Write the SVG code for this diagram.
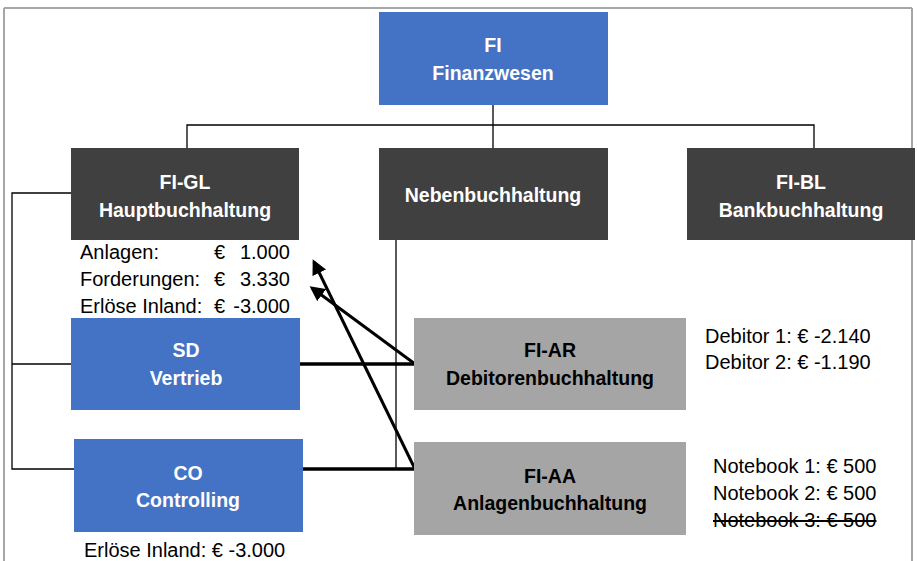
<svg xmlns="http://www.w3.org/2000/svg" width="917" height="561" viewBox="0 0 917 561">
<style>
.blue{fill:#4472C4}
.dark{fill:#404040}
.gray{fill:#A5A5A5}
.tw{font-family:"Liberation Sans",Arial,sans-serif;font-weight:bold;font-size:19.5px;fill:#fff;text-anchor:middle}
.tb{font-family:"Liberation Sans",Arial,sans-serif;font-weight:bold;font-size:19.5px;fill:#000;text-anchor:middle}
.t{font-family:"Liberation Sans",Arial,sans-serif;font-size:20px;fill:#000}
.thin{stroke:#000;stroke-width:1.3;fill:none}
.thick{stroke:#000;stroke-width:3.5;fill:none}
.arr{stroke:#000;stroke-width:3;fill:none;marker-end:url(#ah)}
</style>
<defs>
<marker id="ah" markerWidth="5" markerHeight="5" refX="4" refY="2.5" orient="auto" markerUnits="strokeWidth">
<path d="M0,0 L5,2.5 L0,5 Z" fill="#000"/>
</marker>
</defs>
<rect width="917" height="561" fill="#fff"/>
<g id="frame" stroke="#a6a6a6" stroke-width="2" fill="none">
<line x1="4" y1="8" x2="912" y2="8"/>
<line x1="4" y1="8" x2="4" y2="561"/>
<line x1="912" y1="8" x2="912" y2="561"/>
</g>
<g id="connectors">
<polyline class="thin" points="493,105 493,148"/>
<polyline class="thin" points="187,148 187,125 814,125 814,148"/>
<polyline class="thin" points="71,193 12,193 12,469 74,469"/>
<line class="thin" x1="12" y1="364" x2="71" y2="364"/>
<line class="thin" x1="396" y1="240" x2="396" y2="469"/>
<line class="thick" x1="300" y1="364" x2="415" y2="364"/>
<line class="thick" x1="303" y1="469" x2="415" y2="469"/>
<line class="arr" x1="415" y1="364" x2="312" y2="288"/>
<line class="arr" x1="415" y1="469" x2="314" y2="262"/>
</g>
<g id="fi">
<rect class="blue" x="379" y="12" width="229" height="93"/>
<text class="tw" x="493" y="52">FI</text>
<text class="tw" x="493" y="80">Finanzwesen</text>
</g>
<g id="fi-gl">
<rect class="dark" x="71" y="148" width="228" height="92"/>
<text class="tw" x="185" y="189">FI-GL</text>
<text class="tw" x="185" y="217">Hauptbuchhaltung</text>
</g>
<g id="neben">
<rect class="dark" x="379" y="148" width="229" height="92"/>
<text class="tw" x="493" y="202">Nebenbuchhaltung</text>
</g>
<g id="fi-bl">
<rect class="dark" x="687" y="148" width="228" height="92"/>
<text class="tw" x="801" y="189">FI-BL</text>
<text class="tw" x="801" y="217">Bankbuchhaltung</text>
</g>
<g id="gl-values">
<text class="t" x="80" y="259">Anlagen:</text>
<text class="t" x="214" y="259">€</text>
<text class="t" x="290" y="259" text-anchor="end">1.000</text>
<text class="t" x="80" y="286">Forderungen:</text>
<text class="t" x="214" y="286">€</text>
<text class="t" x="290" y="286" text-anchor="end">3.330</text>
<text class="t" x="80" y="313">Erlöse Inland:</text>
<text class="t" x="214" y="313">€</text>
<text class="t" x="290" y="313" text-anchor="end">-3.000</text>
</g>
<g id="sd">
<rect class="blue" x="71" y="318" width="229" height="92"/>
<text class="tw" x="186" y="357">SD</text>
<text class="tw" x="186" y="385">Vertrieb</text>
</g>
<g id="fi-ar">
<rect class="gray" x="414" y="318" width="272" height="92"/>
<text class="tb" x="550" y="357">FI-AR</text>
<text class="tb" x="550" y="385">Debitorenbuchhaltung</text>
</g>
<g id="debitors">
<text class="t" x="705" y="343">Debitor 1: € -2.140</text>
<text class="t" x="705" y="369">Debitor 2: € -1.190</text>
</g>
<g id="co">
<rect class="blue" x="74" y="439" width="229" height="93"/>
<text class="tw" x="188" y="480">CO</text>
<text class="tw" x="188" y="507">Controlling</text>
</g>
<g id="co-values">
<text class="t" x="84" y="557">Erlöse Inland: € -3.000</text>
</g>
<g id="fi-aa">
<rect class="gray" x="414" y="442" width="272" height="93"/>
<text class="tb" x="550" y="483">FI-AA</text>
<text class="tb" x="550" y="510">Anlagenbuchhaltung</text>
</g>
<g id="notebooks">
<text class="t" x="713" y="473">Notebook 1: € 500</text>
<text class="t" x="713" y="500">Notebook 2: € 500</text>
<text class="t" x="713" y="527" text-decoration="line-through">Notebook 3: € 500</text>
</g>
</svg>
